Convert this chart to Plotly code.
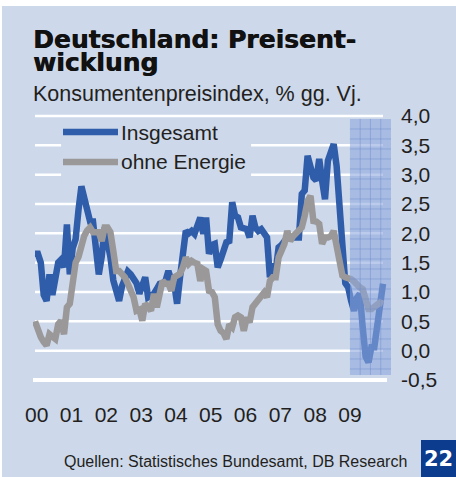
import plotly.graph_objects as go

# ---- data (monthly, Jan 2000 .. Jan 2010), % yoy ----
years = list(range(2000, 2010))
year_labels = ["00", "01", "02", "03", "04", "05", "06", "07", "08", "09"]

insgesamt = [
    1.65, 1.65, 1.50, 0.95, 0.85, 1.30, 0.95, 1.30, 1.50, 1.55, 1.42, 2.15,   # 2000
    1.30, 1.75, 1.90, 2.40, 2.80, 2.60, 2.40, 2.20, 2.20, 1.75, 1.30, 1.60,   # 2001
    2.10, 1.85, 1.60, 1.20, 1.00, 0.85, 1.10, 1.25, 1.35, 1.30, 1.20, 1.15,   # 2002
    0.97, 1.10, 1.25, 0.91, 0.95, 0.97, 1.05, 1.14, 1.15, 1.19, 1.36, 1.20,   # 2003
    1.14, 0.80, 1.25, 1.65, 2.04, 2.00, 2.04, 1.99, 2.10, 2.27, 1.99, 2.27,   # 2004
    1.65, 1.80, 1.82, 1.42, 1.55, 1.76, 1.85, 1.87, 2.53, 2.30, 2.27, 2.10,   # 2005
    2.08, 2.07, 1.93, 2.30, 2.10, 2.04, 2.07, 2.00, 1.93, 1.25, 1.48, 1.36,   # 2006
    1.76, 1.80, 1.87, 1.93, 1.93, 1.93, 1.93, 1.93, 2.67, 2.73, 3.32, 3.10,   # 2007
    2.95, 2.90, 3.27, 2.90, 2.58, 3.24, 3.40, 3.52, 3.15, 2.60, 1.80, 1.15,   # 2008
    1.08, 0.85, 0.68, 0.90, 0.97, 0.40, -0.10, -0.20, 0.06, 0.06, 0.40, 0.80, # 2009
    1.14,                                                                      # 2010
]
ohne_energie = [
    0.50, 0.35, 0.23, 0.15, 0.09, 0.28, 0.22, 0.20, 0.45, 0.51, 0.28, 0.74,   # 2000
    0.80, 1.14, 1.50, 1.60, 1.82, 1.96, 2.05, 2.10, 2.02, 2.02, 2.02, 1.87,   # 2001
    2.10, 2.10, 2.02, 1.70, 1.36, 1.36, 1.31, 1.25, 1.14, 1.05, 0.91, 0.68,   # 2002
    0.70, 0.51, 0.80, 0.75, 0.68, 0.97, 0.74, 0.97, 1.19, 1.14, 1.14, 1.02,   # 2003
    1.25, 1.28, 1.31, 1.42, 1.59, 1.48, 1.53, 1.50, 1.48, 1.19, 1.39, 1.36,   # 2004
    1.02, 1.00, 0.91, 0.45, 0.34, 0.30, 0.20, 0.45, 0.40, 0.57, 0.60, 0.57,   # 2005
    0.34, 0.57, 0.48, 0.74, 0.80, 0.85, 0.90, 0.99, 0.91, 1.19, 1.25, 1.25,   # 2006
    1.59, 1.70, 1.82, 2.04, 1.87, 1.95, 1.99, 2.05, 2.10, 2.30, 2.55, 2.64,   # 2007
    2.21, 2.20, 2.16, 1.82, 1.93, 1.93, 1.95, 2.04, 1.75, 1.45, 1.28, 1.25,   # 2008
    1.24, 1.22, 1.18, 1.12, 1.08, 1.05, 0.90, 0.71, 0.71, 0.75, 0.80, 0.82,   # 2009
    0.80,                                                                      # 2010
]
months = [2000 + i / 12 for i in range(len(insgesamt))]

y_ticks = [4.0, 3.5, 3.0, 2.5, 2.0, 1.5, 1.0, 0.5, 0.0, -0.5]
y_tick_text = ["4,0", "3,5", "3,0", "2,5", "2,0", "1,5", "1,0", "0,5", "0,0", "-0,5"]

forecast_start = 2009.05   # shaded area (forecast period)
forecast_end = 2010.23

# ---- styling ----
BG = "#CDD8EA"
BLUE = "#2F5DAA"
GRAY = "#9A9898"
TXT = "#231F20"
W, H = 456, 477
L, R, T, B = 33, 392, 108, 386
X_RANGE = [1999.9425, 2010.2586]
Y_RANGE = [-0.602, 4.136]

def px(x):
    return (x - L) / (R - L)

def py(y):
    return (B - y) / (B - T)

fig = go.Figure()
fig.add_trace(go.Scatter(x=months, y=insgesamt, mode="lines", name="Insgesamt",
                         line=dict(color=BLUE, width=6.5), showlegend=False))
fig.add_trace(go.Scatter(x=months, y=ohne_energie, mode="lines", name="ohne Energie",
                         line=dict(color=GRAY, width=6.5), showlegend=False))

shapes = []
# panel background
shapes.append(dict(type="rect", xref="paper", yref="paper", x0=px(2), x1=px(W + 2),
                   y0=py(H + 2), y1=py(6), fillcolor=BG, line=dict(width=0), layer="below"))
# gridlines
for v in y_ticks:
    if v == -0.5:
        shapes.append(dict(type="line", xref="x", yref="y", x0=1999.9425, x1=2010.115, y0=v, y1=v,
                           line=dict(color="white", width=4), layer="below"))
    else:
        shapes.append(dict(type="line", xref="x", yref="y", x0=2000.0, x1=2010.0, y0=v, y1=v,
                           line=dict(color="white", width=2.5), layer="below"))
# legend mask
shapes.append(dict(type="rect", xref="x", yref="y", x0=2000.75, x1=2006.21, y0=2.8, y1=3.75,
                   fillcolor=BG, line=dict(width=0), layer="below"))
# legend line keys
shapes.append(dict(type="line", xref="x", yref="y", x0=2000.805, x1=2002.385, y0=3.727, y1=3.727,
                   line=dict(color=BLUE, width=6.5), layer="above"))
shapes.append(dict(type="line", xref="x", yref="y", x0=2000.805, x1=2002.385, y0=3.216, y1=3.216,
                   line=dict(color=GRAY, width=6.5), layer="above"))
# forecast shading with grid pattern
fy0, fy1 = -0.415, 3.949
shapes.append(dict(type="rect", xref="x", yref="y", x0=forecast_start, x1=forecast_end,
                   y0=fy0, y1=fy1, fillcolor="rgba(140,166,222,0.58)", line=dict(width=0),
                   layer="above"))
ncols = 4
for i in range(1, ncols):
    xx = forecast_start + (forecast_end - forecast_start) * i / ncols
    shapes.append(dict(type="line", xref="x", yref="y", x0=xx, x1=xx, y0=fy0, y1=fy1,
                       line=dict(color="rgba(110,140,205,0.45)", width=1), layer="above"))
step = 10 / 58.67
yy = fy1 - step
while yy > fy0 + 0.02:
    shapes.append(dict(type="line", xref="x", yref="y", x0=forecast_start, x1=forecast_end,
                       y0=yy, y1=yy, line=dict(color="rgba(110,140,205,0.45)", width=1),
                       layer="above"))
    yy -= step
# page number box
shapes.append(dict(type="rect", xref="paper", yref="paper", x0=px(421), x1=px(458),
                   y0=py(479), y1=py(440), fillcolor="#0B3C8E", line=dict(width=0), layer="above"))
fig.update_layout(shapes=shapes)

title_font = dict(family="DejaVu Sans", size=25, color="#111111", weight="bold",
                  shadow="0.6px 0px 0px #111111")
ann = []
ann.append(dict(text="Deutschland: Preisent-", xref="paper", yref="paper", x=px(31), y=py(40),
                xanchor="left", yanchor="middle", showarrow=False, font=title_font))
ann.append(dict(text="wicklung", xref="paper", yref="paper", x=px(31), y=py(63),
                xanchor="left", yanchor="middle", showarrow=False, font=title_font))
ann.append(dict(text="Konsumentenpreisindex, % gg. Vj.", xref="paper", yref="paper", x=px(31), y=py(94),
                xanchor="left", yanchor="middle", showarrow=False,
                font=dict(family="Liberation Sans", size=21.5, color=TXT)))
ann.append(dict(text="Insgesamt", xref="x", yref="y", x=2002.4, y=3.727,
                xanchor="left", yanchor="middle", showarrow=False,
                font=dict(family="Liberation Sans", size=21, color=TXT)))
ann.append(dict(text="ohne Energie", xref="x", yref="y", x=2002.4, y=3.216,
                xanchor="left", yanchor="middle", showarrow=False,
                font=dict(family="Liberation Sans", size=21, color=TXT)))
ann.append(dict(text="Quellen: Statistisches Bundesamt, DB Research", xref="paper", yref="paper",
                x=px(409), y=py(461), xanchor="right", yanchor="middle", showarrow=False,
                font=dict(family="Liberation Sans", size=16, color=TXT)))
ann.append(dict(text="22", xref="paper", yref="paper", x=px(438), y=py(459),
                xanchor="center", yanchor="middle", showarrow=False,
                font=dict(family="DejaVu Sans", size=21, color="white", weight="bold")))
fig.update_layout(annotations=ann)

fig.update_layout(
    width=W, height=H,
    margin=dict(l=L, r=W - R, t=T, b=H - B, pad=0),
    paper_bgcolor="white", plot_bgcolor="rgba(0,0,0,0)",
    showlegend=False,
    xaxis=dict(range=X_RANGE, showgrid=False, zeroline=False, showline=False,
               tickvals=[y + 0.05 for y in years], ticktext=year_labels, ticks="",
               ticklabelstandoff=14,
               tickfont=dict(family="Liberation Sans", size=21, color=TXT)),
    yaxis=dict(range=Y_RANGE, side="right", showgrid=False, zeroline=False, showline=False,
               tickvals=y_ticks, ticktext=y_tick_text, ticks="", ticklabelstandoff=8,
               tickfont=dict(family="Liberation Sans", size=21, color=TXT)),
)

fig.write_html("out.html", config={"displayModeBar": False},
               post_script="document.body.style.margin='0';document.body.style.padding='0';")
